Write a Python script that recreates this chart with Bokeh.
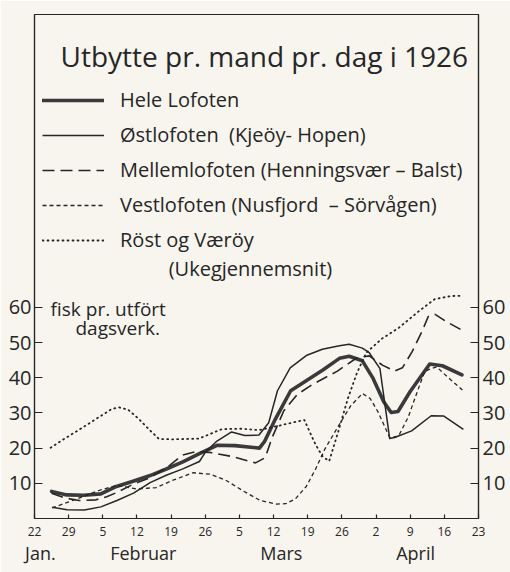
from bokeh.plotting import figure
from bokeh.models import LinearAxis, FixedTicker, Legend, LegendItem, Label, Range1d
from bokeh.embed import file_html
from bokeh.resources import INLINE

# ---------------- data (day of year 1926, fish per man per day) ----------------
hele_day = [25.5, 28.6, 32.1, 35.6, 38.8, 42.2, 45.7, 48.9, 52.4, 55.8, 59.4, 63.1, 68.1, 69.2,
            71.2, 74.5, 76.5, 81.1, 84.5, 86.5, 89.2, 91.4, 93.6, 95.1, 96.5, 99.0, 103.0, 105.6, 109.6]
hele_val = [7.7, 6.7, 6.6, 7.0, 9.1, 10.6, 12.2, 14.0, 16.1, 18.4, 20.8, 20.7, 20.0, 22.0,
            27.8, 36.3, 38.1, 42.2, 45.5, 46.1, 44.8, 39.8, 33.1, 30.1, 30.4, 36.1, 43.9, 43.4, 40.8]

ost_day = [25.6, 28.7, 32.2, 35.6, 38.9, 42.3, 45.7, 49.0, 52.4, 55.8, 57.0, 59.4, 62.4, 65.1, 68.0,
           70.0, 71.8, 74.4, 77.7, 81.0, 84.5, 86.5, 89.2, 90.6, 92.8, 94.8, 95.8, 99.3, 103.3, 105.9, 109.9]
ost_val = [3.2, 2.5, 2.4, 3.3, 5.1, 7.2, 10.2, 12.3, 14.1, 16.2, 18.8, 22.0, 24.6, 23.6, 23.7,
           27.2, 36.3, 42.8, 46.3, 48.1, 49.1, 49.5, 48.4, 47.1, 42.6, 22.7, 23.0, 24.9, 29.2, 29.1, 25.3]

mellem_day = [25.5, 28.0, 31.1, 34.6, 36.8, 38.9, 42.3, 45.7, 49.7, 52.3, 55.0, 57.8, 62.6, 67.3, 69.3,
              70.7, 73.1, 75.9, 79.1, 84.0, 88.0, 90.6, 93.4, 95.8, 97.4, 99.4, 101.4, 102.7, 104.1, 106.2, 110.0]
mellem_val = [7.2, 5.9, 5.1, 5.3, 6.2, 7.4, 9.8, 11.6, 15.1, 18.0, 19.0, 18.8, 17.6, 15.8, 17.3,
              23.0, 30.6, 35.3, 38.2, 41.8, 45.6, 46.2, 43.5, 41.9, 42.8, 47.4, 53.1, 57.4, 58.0, 56.1, 53.2]

vest_day = [25.6, 28.6, 31.5, 35.5, 38.8, 42.9, 47.0, 50.4, 54.5, 58.0, 61.3, 64.8, 68.3, 71.6, 73.5,
            75.5, 77.7, 79.6, 81.5, 84.3, 86.8, 89.2, 90.8, 92.4, 94.8, 96.6, 98.6, 100.5, 102.0, 104.4, 106.5, 109.7]
vest_val = [3.0, 4.5, 6.0, 8.1, 9.4, 8.4, 8.8, 10.9, 13.0, 12.6, 10.8, 7.8, 5.1, 4.1, 4.2,
            5.6, 9.1, 14.0, 19.7, 26.3, 32.0, 35.5, 34.1, 30.3, 23.0, 23.4, 28.8, 36.2, 41.9, 43.1, 40.4, 36.5]

rost_day = [25.3, 28.3, 31.7, 35.1, 37.7, 39.2, 41.2, 43.3, 45.4, 47.5, 50.2, 55.7, 60.4, 64.4, 68.0,
            72.5, 77.3, 79.5, 81.0, 82.4, 84.3, 86.2, 88.1, 90.0, 93.2, 96.6, 100.6, 104.0, 107.3, 109.8]
rost_val = [20.1, 22.8, 25.7, 28.7, 31.0, 31.6, 30.9, 28.4, 25.4, 22.6, 22.5, 22.7, 25.4, 25.5, 25.1,
            26.5, 28.0, 21.3, 17.7, 16.3, 24.9, 34.0, 41.4, 47.1, 51.1, 54.1, 58.7, 62.3, 63.2, 63.3]

series_names = ["Hele Lofoten",
                "Østlofoten  (Kjeöy- Hopen)",
                "Mellemlofoten (Henningsvær – Balst)",
                "Vestlofoten (Nusfjord  – Sörvågen)",
                "Röst og Væröy"]

week_ticks = [22, 29, 36, 43, 50, 57, 64, 71, 78, 85, 92, 99, 106, 113]
week_labels = ["22", "29", "5", "12", "19", "26", "5", "12", "19", "26", "2", "9", "16", "23"]
month_pos = [23.2, 44.3, 72.6, 100.1]
month_labels = ["Jan.", "Februar", "Mars", "April"]
y_ticks = [10, 20, 30, 40, 50, 60]

# ---------------- styling ----------------
INK = "#262626"
PAPER = "#f7f5ee"
FONT = "Open Sans"

W, H = 510, 572
p = figure(width=W, height=H, x_range=Range1d(22, 113), y_range=Range1d(0, 143.2),
           output_backend="svg", toolbar_location=None,
           x_axis_location=None, y_axis_location=None,
           min_border_left=34, min_border_right=32, min_border_top=14, min_border_bottom=54)
p.background_fill_color = PAPER
p.border_fill_color = PAPER
p.outline_line_color = INK
p.outline_line_width = 1.2
p.xgrid.visible = False
p.ygrid.visible = False

# lines
r_hele = p.line(hele_day, hele_val, line_color="#3a3a3a", line_width=3.6, line_join="round", line_cap="round")
r_ost = p.line(ost_day, ost_val, line_color=INK, line_width=1.5, line_join="round")
r_mel = p.line(mellem_day, mellem_val, line_color=INK, line_width=1.6, line_dash="12 6")
r_ves = p.line(vest_day, vest_val, line_color=INK, line_width=1.3, line_dash="4 3")
r_ros = p.line(rost_day, rost_val, line_color=INK, line_width=1.8, line_dash="1 4", line_cap="round")

# axes
def style_axis(ax, size, tick_in, standoff):
    ax.axis_line_color = INK
    ax.axis_line_width = 1.2
    ax.major_tick_in = tick_in
    ax.major_tick_out = 0
    ax.major_tick_line_color = INK
    ax.major_tick_line_width = 1.2
    ax.minor_tick_line_color = None
    ax.major_label_text_font = FONT
    ax.major_label_text_font_size = size
    ax.major_label_text_color = INK
    ax.major_label_standoff = standoff

left = LinearAxis(ticker=FixedTicker(ticks=y_ticks))
style_axis(left, "20px", 8, 3)
p.add_layout(left, "left")

right = LinearAxis(ticker=FixedTicker(ticks=y_ticks))
style_axis(right, "20px", 8, 4)
p.add_layout(right, "right")

bottom = LinearAxis(ticker=FixedTicker(ticks=week_ticks),
                    major_label_overrides={t: s for t, s in zip(week_ticks, week_labels)})
style_axis(bottom, "12px", 4, 8)
p.add_layout(bottom, "below")

months = LinearAxis(ticker=FixedTicker(ticks=month_pos),
                    major_label_overrides={t: s for t, s in zip(month_pos, month_labels)})
style_axis(months, "18px", 0, 2)
months.axis_line_color = None
months.major_tick_line_color = None
p.add_layout(months, "below")

# legend
legend = Legend(items=[LegendItem(label=n, renderers=[r]) for n, r in
                       zip(series_names, [r_hele, r_ost, r_mel, r_ves, r_ros])],
                location=(8, 265), orientation="vertical",
                glyph_width=62, glyph_height=22, label_height=22, spacing=8,
                label_standoff=16, padding=0, margin=0,
                label_text_font=FONT, label_text_font_size="20px", label_text_color=INK,
                background_fill_alpha=0, border_line_alpha=0)
p.add_layout(legend, "center")

# texts
p.add_layout(Label(x=69.1, y=131.5, text="Utbytte pr. mand pr. dag i 1926", text_align="center",
                   text_baseline="middle", text_font=FONT, text_font_size="28px", text_color=INK))
p.add_layout(Label(x=49.5, y=71.0, text="(Ukegjennemsnit)", text_align="left",
                   text_baseline="middle", text_font=FONT, text_font_size="20px", text_color=INK))
p.add_layout(Label(x=25.3, y=59.5, text="fisk pr. utfört", text_align="left",
                   text_baseline="middle", text_font=FONT, text_font_size="19px", text_color=INK))
p.add_layout(Label(x=30.4, y=54.0, text="dagsverk.", text_align="left",
                   text_baseline="middle", text_font=FONT, text_font_size="19px", text_color=INK))

open("out.html", "w").write(file_html(p, INLINE))
